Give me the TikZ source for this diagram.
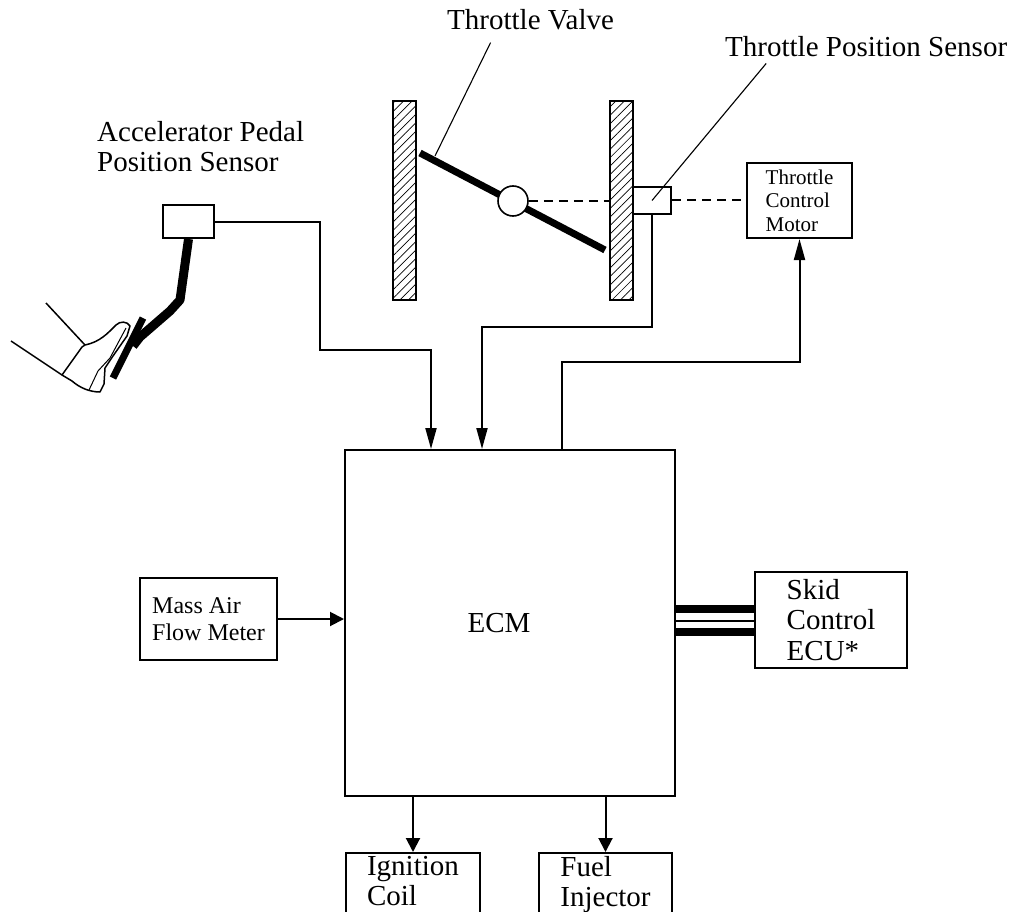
\documentclass[tikz,border=0pt]{standalone}
\usepackage{fontspec}
\setmainfont{Liberation Serif}
\usetikzlibrary{arrows.meta, patterns.meta}

\begin{document}
\begin{tikzpicture}[
    x=1pt, y=-1pt,
    box/.style={rectangle, draw=black, line width=2pt, inner sep=3pt, align=left, font=\fontsize{29}{30.5}\selectfont},
    lbl/.style={inner sep=0pt, align=left, font=\fontsize{29}{30.5}\selectfont},
    wall/.style={rectangle, draw=black, line width=1.6pt, minimum width=23pt, minimum height=199pt, pattern={Lines[angle=45,distance=6pt,line width=0.7pt]}},
    wire/.style={line width=2pt},
    arrlong/.style={wire, -{Triangle[length=21pt,width=11pt]}},
    arrshort/.style={wire, -{Triangle[length=14pt,width=14pt]}},
    leader/.style={line width=1.1pt},
    link/.style={line width=2pt, dash pattern=on 9pt off 6pt}
]
\useasboundingbox (0,0) rectangle (1014,912);

% Throttle body
\node[wall] (wallL) at (404.5,200.5) {};
\node[wall] (wallR) at (621.5,200.5) {};
\draw[line width=7pt] (420,153) -- (605,250);
\node[circle, draw, fill=white, line width=1.6pt, minimum size=30pt, inner sep=0pt] (pivot) at (513,201) {};
\node[box, minimum width=38pt, minimum height=27pt] (tps) at (652,200.5) {};
\node[box, minimum width=105pt, minimum height=75pt, font=\fontsize{21}{23.5}\selectfont] (tcm) at (799.5,200.5) {Throttle\\Control\\Motor};
\draw[link] (pivot.east) -- (pivot.east -| wallR.west);
\draw[link] (tps.east) -- (tcm.west);

% Labels
\node[lbl, anchor=base west] (tvlbl) at (447,30) {Throttle Valve};
\coordinate (tvpin) at (435,156);
\draw[leader] ([xshift=-40pt,yshift=-12pt]tvlbl.south) -- (tvpin);
\node[lbl, anchor=base west] (tpslbl) at (725,57) {Throttle Position Sensor};
\draw[leader] ([xshift=-100pt,yshift=-6pt]tpslbl.south) -- (tps.center);
\node[lbl, anchor=north west] (appslbl) at (97,121) {Accelerator Pedal\\Position Sensor};

% Foot on the pedal
\draw[line width=1.5pt] (46,303) -- (85,345);
\draw[line width=1.5pt] (11,341) -- (62,375);
\draw[line width=1.5pt, fill=white, line join=round] (85,345) .. controls (100,342) and (108,333) .. (116,325) .. controls (120,321) and (127,321) .. (130,326) -- (127,336) -- (113,356) -- (105,368) -- (104,384) -- (100,392) .. controls (90,392) and (80,388) .. (72,381) -- (62,375) -- (82,347) -- cycle;
\draw[line width=1pt] (126,328) -- (110,358) -- (98,371) -- (89,390);

% Accelerator pedal
\node[box, minimum width=51pt, minimum height=33pt] (apps) at (188.5,221.5) {};
\draw[line width=9pt, line join=round] (apps.south) -- (180,300) -- (170,311) -- (140,337) -- (133,346);
\draw[line width=7pt] (143,318) -- (113,378);

% Control unit and the rest
\node[box, minimum width=330pt, minimum height=346pt,
      label={[font=\fontsize{29}{30.5}\selectfont, xshift=-11pt]center:ECM}] (ecm) at (510,623) {};
\node[box, minimum width=137pt, minimum height=82pt, font=\fontsize{24}{27}\selectfont] (maf) at (208.5,619) {Mass Air\\Flow Meter};
\node[box, minimum width=152pt, minimum height=96pt] (skid) at (831,620) {Skid\\Control\\ECU*};
\node[box, anchor=north, minimum width=134pt] (ign) at (413,852) {Ignition\\Coil\\\mbox{}};
\node[box, anchor=north, minimum width=133pt] (fuel) at (605.5,852) {Fuel\\Injector\\\mbox{}};

\coordinate (ecmin1) at ([xshift=87pt]ecm.north west);
\coordinate (ecmin2) at ([xshift=138pt]ecm.north west);
\coordinate (ecmout) at ([xshift=218pt]ecm.north west);
\coordinate (busL) at (ecm.east |- skid.west);

% Connections
\draw[arrlong] (apps.east) -| (320,350) -| (ecmin1);
\draw[arrlong] (tps.south) -- ++(0,112) -| (ecmin2);
\draw[arrlong] (ecmout) -- ++(0,-87) -| (tcm.south);
\draw[arrshort] (maf.east) -- (maf.east -| ecm.west);
\draw[arrshort] (ign.north |- ecm.south) -- (ign.north);
\draw[arrshort] (fuel.north |- ecm.south) -- (fuel.north);
\foreach \dy/\lw in {11.5/8pt, -0.5/2pt, -11.5/8pt}
  \draw[line width=\lw] ([yshift=\dy pt]busL) -- ([yshift=\dy pt]busL -| skid.west);

\end{tikzpicture}
\end{document}
